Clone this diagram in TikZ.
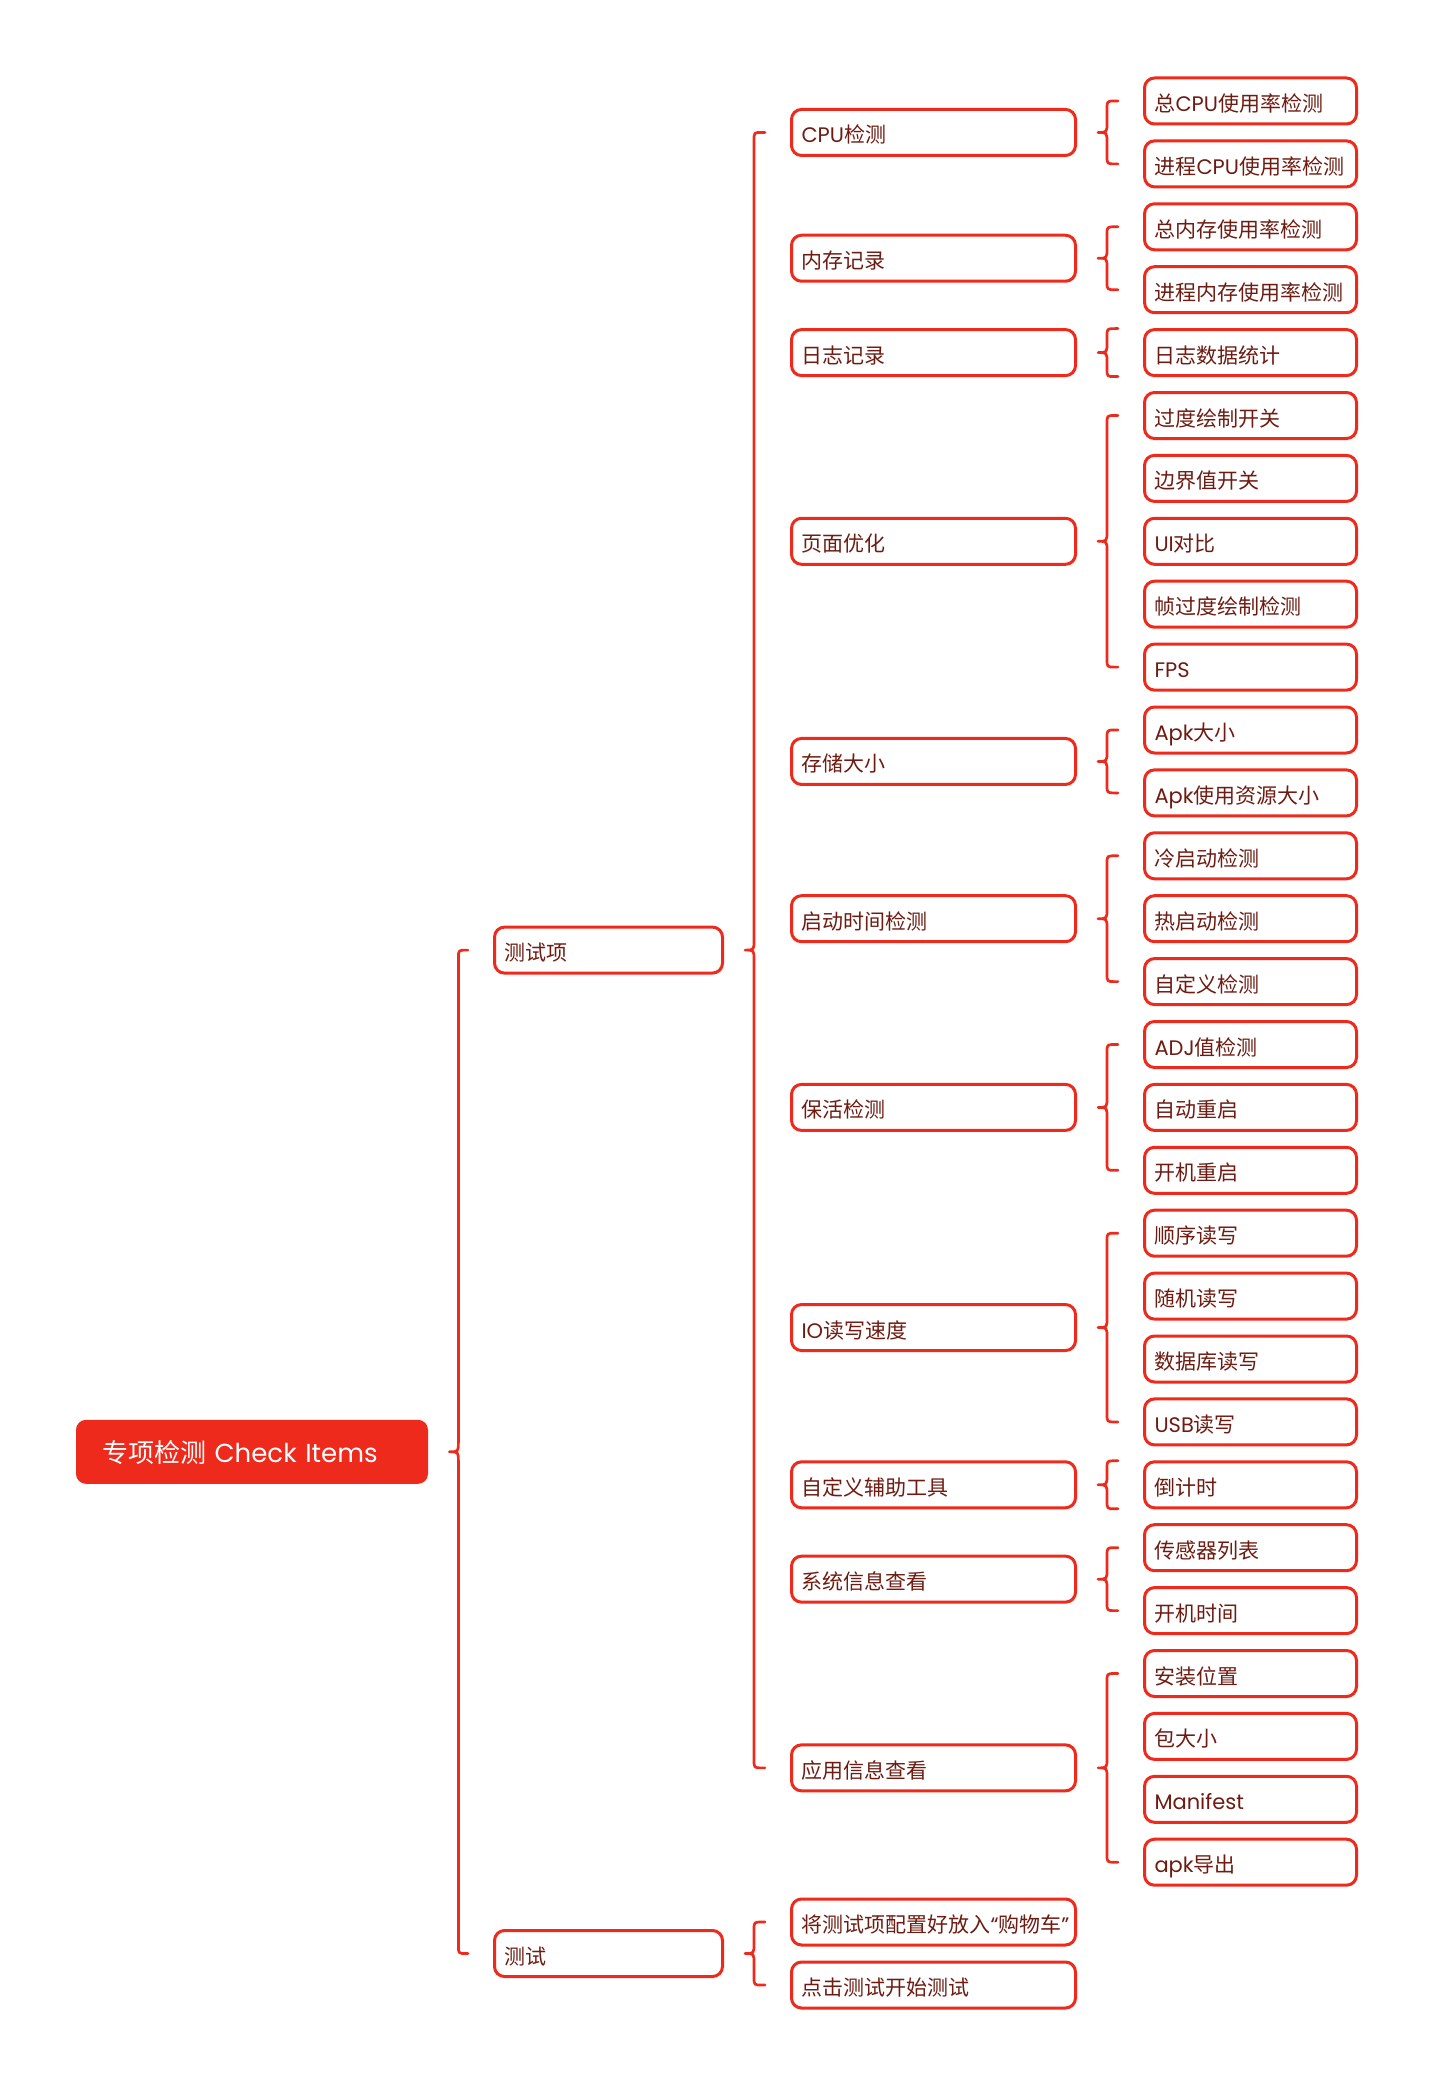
\documentclass[tikz,border=0pt]{standalone}
\usepackage{fontspec}
\setmainfont{Poppins}
\newfontfamily\cjk{Noto Sans CJK SC}
\usetikzlibrary{calc}
\definecolor{mmred}{RGB}{238,42,28}
\definecolor{mmtext}{RGB}{110,28,18}
\newcommand\zh[1]{{\cjk #1}}

\tikzset{
  topic/.style={draw=mmred, line width=1.5pt, rounded corners=5pt, fill=white,
    text=mmtext, font=\fontsize{10.5}{12}\selectfont, align=left,
    inner xsep=5pt, inner ysep=0pt, text height=12.5pt, text depth=2pt,
    minimum height=23pt},
  lvlone/.style={topic, text width=104pt},
  lvltwo/.style={topic, text width=132pt},
  lvlthree/.style={topic, text width=96pt},
  rootnode/.style={fill=mmred, rounded corners=5pt, text=white,
    font=\fontsize{13}{15}\selectfont, align=left, inner xsep=13pt,
    text width=150pt, minimum height=32pt, text height=13.3pt, text depth=2.5pt},
  bracket/.style={draw=mmred, line width=1.35pt, line join=round, line cap=round},
}

% curly bracket from a parent's right side to the left side of its children
% [#1] extra reach above/below the outer children (for a single child)
\newcommand\bracefrom[4][0]{%
  \draw[bracket] let \p1=(#2.east), \p2=($(#3.west)+(0,-#1)$), \p3=($(#4.west)+(0,#1)$) in
    (\x2-12.5pt,\y2) -- (\x1+19pt,\y2) .. controls (\x1+15pt,\y2) .. (\x1+15pt,\y2-4pt)
    -- (\x1+15pt,\y1+5pt) .. controls (\x1+15pt,\y1) .. (\x1+10.5pt,\y1)
    .. controls (\x1+15pt,\y1) .. (\x1+15pt,\y1-5pt)
    -- (\x1+15pt,\y3+4pt) .. controls (\x1+15pt,\y3) .. (\x1+19pt,\y3) -- (\x2-12.5pt,\y3);}

\begin{document}
\begin{tikzpicture}[x=0.5pt, y=-0.5pt]
\useasboundingbox (0,0) rectangle (1434,2086);

% third level
\foreach \i/\t in {
  0/{\zh{总}CPU\zh{使用率检测}},
  1/{\zh{进程}CPU\zh{使用率检测}},
  2/{\zh{总内存使用率检测}},
  3/{\zh{进程内存使用率检测}},
  4/{\zh{日志数据统计}},
  5/{\zh{过度绘制开关}},
  6/{\zh{边界值开关}},
  7/{UI\zh{对比}},
  8/{\zh{帧过度绘制检测}},
  9/{FPS},
  10/{Apk\zh{大小}},
  11/{Apk\zh{使用资源大小}},
  12/{\zh{冷启动检测}},
  13/{\zh{热启动检测}},
  14/{\zh{自定义检测}},
  15/{ADJ\zh{值检测}},
  16/{\zh{自动重启}},
  17/{\zh{开机重启}},
  18/{\zh{顺序读写}},
  19/{\zh{随机读写}},
  20/{\zh{数据库读写}},
  21/{USB\zh{读写}},
  22/{\zh{倒计时}},
  23/{\zh{传感器列表}},
  24/{\zh{开机时间}},
  25/{\zh{安装位置}},
  26/{\zh{包大小}},
  27/{Manifest},
  28/{apk\zh{导出}}}
  \node[lvlthree, name=c\i] at (1250.5, 101+62.9*\i) {\t};

% second level
\node[lvltwo] (cpu)  at (933.5, 101+62.9*0.5)  {CPU\zh{检测}};
\node[lvltwo] (mem)  at (933.5, 101+62.9*2.5)  {\zh{内存记录}};
\node[lvltwo] (log)  at (933.5, 101+62.9*4)    {\zh{日志记录}};
\node[lvltwo] (page) at (933.5, 101+62.9*7)    {\zh{页面优化}};
\node[lvltwo] (stor) at (933.5, 101+62.9*10.5) {\zh{存储大小}};
\node[lvltwo] (boot) at (933.5, 101+62.9*13)   {\zh{启动时间检测}};
\node[lvltwo] (keep) at (933.5, 101+62.9*16)   {\zh{保活检测}};
\node[lvltwo] (io)   at (933.5, 101+62.9*19.5) {IO\zh{读写速度}};
\node[lvltwo] (tool) at (933.5, 101+62.9*22)   {\zh{自定义辅助工具}};
\node[lvltwo] (sys)  at (933.5, 101+62.9*23.5) {\zh{系统信息查看}};
\node[lvltwo] (app)  at (933.5, 101+62.9*26.5) {\zh{应用信息查看}};
\node[lvltwo] (t1)   at (933.5, 1922) {\zh{将测试项配置好放入}“\zh{购物车}”};
\node[lvltwo] (t2)   at (933.5, 1985) {\zh{点击测试开始测试}};

% first level
\node[lvlone] (items) at (608.5, 950.1)  {\zh{测试项}};
\node[lvlone] (test)  at (608.5, 1953.5) {\zh{测试}};

% root
\node[rootnode] (root) at (252, 1451.8) {\zh{专项检测} Check Items};

% brackets
\bracefrom{root}{items}{test}
\bracefrom{items}{cpu}{app}
\bracefrom{test}{t1}{t2}
\bracefrom{cpu}{c0}{c1}
\bracefrom{mem}{c2}{c3}
\bracefrom[24]{log}{c4}{c4}
\bracefrom{page}{c5}{c9}
\bracefrom{stor}{c10}{c11}
\bracefrom{boot}{c12}{c14}
\bracefrom{keep}{c15}{c17}
\bracefrom{io}{c18}{c21}
\bracefrom[24]{tool}{c22}{c22}
\bracefrom{sys}{c23}{c24}
\bracefrom{app}{c25}{c28}
\end{tikzpicture}
\end{document}
